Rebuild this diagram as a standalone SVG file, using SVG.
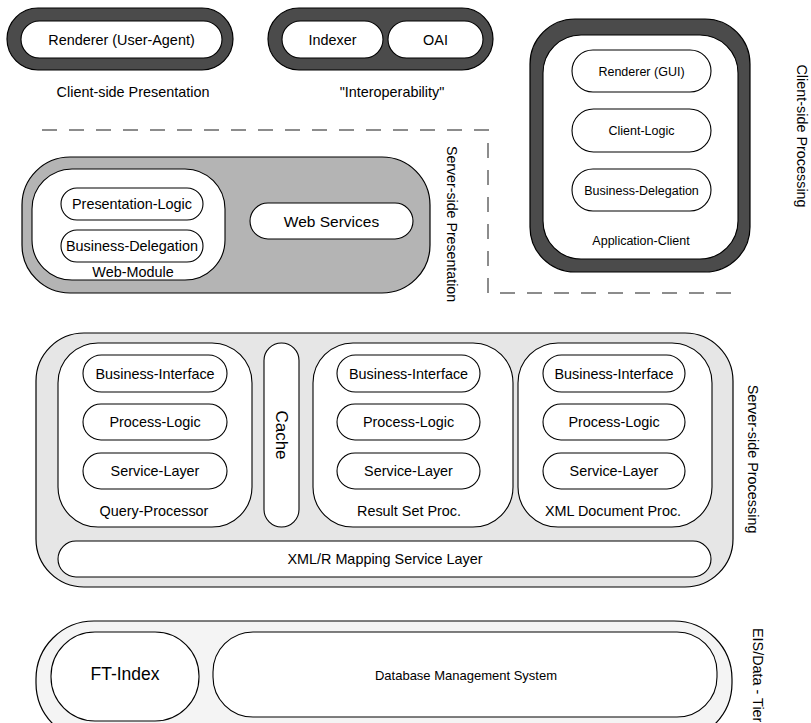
<svg xmlns="http://www.w3.org/2000/svg" width="811" height="723" viewBox="0 0 811 723">
<style>
text{font-family:"Liberation Sans",Arial,sans-serif;font-size:14.4px;fill:#000;text-anchor:middle}
.dark{fill:#4b4b4b;stroke:#000;stroke-width:1.2}
.wh{fill:#fff;stroke:#000;stroke-width:1.1}
.mid{fill:#b4b4b4;stroke:#000;stroke-width:1.2}
.light{fill:#e6e6e6;stroke:#000;stroke-width:1.2}
.pale{fill:#f4f4f4;stroke:#000;stroke-width:1.2}
.dash{fill:none;stroke:#8c8c8c;stroke-width:2;stroke-dasharray:15 12}
.sm{font-size:12.5px}
</style>
<rect width="811" height="723" fill="#fff"/>
<g id="connectors">
<path class="dash" d="M42,130 H488 V293 H740"/>
</g>
<g id="client-presentation">
<rect class="dark" x="7" y="8" width="226" height="62" rx="31"/>
<rect class="wh" x="21" y="21" width="201" height="37" rx="18.5"/>
<text x="121.5" y="44.5">Renderer (User-Agent)</text>
<text x="133" y="97">Client-side Presentation</text>
</g>
<g id="interoperability">
<rect class="dark" x="268" y="8" width="225" height="62" rx="31"/>
<rect class="wh" x="282" y="21" width="101" height="37" rx="18.5"/>
<text x="332.5" y="44.5">Indexer</text>
<rect class="wh" x="388" y="21" width="95" height="37" rx="18.5"/>
<text x="435.5" y="44.5">OAI</text>
<text x="392" y="97">"Interoperability"</text>
</g>
<g id="application-client">
<rect class="dark" x="530" y="19" width="220" height="253" rx="45"/>
<rect class="wh" x="543" y="35" width="195" height="224" rx="38"/>
<rect class="wh" x="572" y="50" width="139" height="42" rx="21"/>
<text class="sm" x="641.5" y="75.5">Renderer (GUI)</text>
<rect class="wh" x="572" y="109" width="139" height="43" rx="21.5"/>
<text class="sm" x="641.5" y="135">Client-Logic</text>
<rect class="wh" x="572" y="169" width="139" height="42" rx="21"/>
<text class="sm" x="641.5" y="194.5">Business-Delegation</text>
<text class="sm" x="641" y="245">Application-Client</text>
</g>
<g id="server-presentation">
<rect class="mid" x="22" y="157" width="408" height="136" rx="48"/>
<rect class="wh" x="32" y="169" width="193" height="111" rx="40"/>
<rect class="wh" x="61" y="188" width="142" height="32" rx="16"/>
<text x="132" y="209">Presentation-Logic</text>
<rect class="wh" x="61" y="230" width="142" height="32" rx="16"/>
<text x="132" y="251">Business-Delegation</text>
<text x="133" y="277">Web-Module</text>
<rect class="wh" x="250" y="203" width="163" height="36" rx="18"/>
<text x="331.5" y="226.5" style="font-size:15.5px">Web Services</text>
</g>
<g id="server-processing">
<rect class="light" x="36" y="333" width="697" height="254" rx="48"/>
<g id="query-processor">
<rect class="wh" x="58" y="343" width="194" height="184" rx="40"/>
<rect class="wh" x="83" y="355" width="144" height="37" rx="18.5"/>
<text x="155" y="378.5">Business-Interface</text>
<rect class="wh" x="83" y="404" width="144" height="36" rx="18"/>
<text x="155" y="427">Process-Logic</text>
<rect class="wh" x="83" y="453" width="144" height="36" rx="18"/>
<text x="155" y="476">Service-Layer</text>
<text x="154" y="516">Query-Processor</text>
</g>
<g id="cache">
<rect class="wh" x="264" y="343" width="35" height="184" rx="17.5"/>
<text transform="translate(276,435) rotate(90)" style="font-size:17px">Cache</text>
</g>
<g id="result-set-proc">
<rect class="wh" x="313" y="343" width="200" height="184" rx="40"/>
<rect class="wh" x="337" y="355" width="143" height="37" rx="18.5"/>
<text x="408.5" y="378.5">Business-Interface</text>
<rect class="wh" x="337" y="404" width="143" height="36" rx="18"/>
<text x="408.5" y="427">Process-Logic</text>
<rect class="wh" x="337" y="453" width="143" height="36" rx="18"/>
<text x="408.5" y="476">Service-Layer</text>
<text x="409" y="516">Result Set Proc.</text>
</g>
<g id="xml-document-proc">
<rect class="wh" x="518" y="343" width="194" height="184" rx="40"/>
<rect class="wh" x="543" y="355" width="142" height="37" rx="18.5"/>
<text x="614" y="378.5">Business-Interface</text>
<rect class="wh" x="543" y="404" width="142" height="36" rx="18"/>
<text x="614" y="427">Process-Logic</text>
<rect class="wh" x="543" y="453" width="142" height="36" rx="18"/>
<text x="614" y="476">Service-Layer</text>
<text x="613" y="516">XML Document Proc.</text>
</g>
<g id="xmlr-mapping">
<rect class="wh" x="58" y="541" width="653" height="36" rx="18"/>
<text x="385" y="564">XML/R Mapping Service Layer</text>
</g>
</g>
<g id="eis-tier">
<rect class="pale" x="36" y="621" width="696" height="120" rx="58"/>
<rect class="wh" x="51" y="632" width="148" height="89" rx="44"/>
<text x="125" y="680" style="font-size:17.5px">FT-Index</text>
<rect class="wh" x="213" y="632" width="504" height="85" rx="40"/>
<text x="466" y="680" style="font-size:13px">Database Management System</text>
</g>
<g id="tier-labels">
<text transform="translate(797,136) rotate(90)">Client-side Processing</text>
<text transform="translate(447,224) rotate(90)" style="font-size:14.2px">Server-side Presentation</text>
<text transform="translate(748,459) rotate(90)">Server-side Processing</text>
<text transform="translate(753,628) rotate(90)" style="text-anchor:start">EIS/Data - Tier</text>
</g>
</svg>
